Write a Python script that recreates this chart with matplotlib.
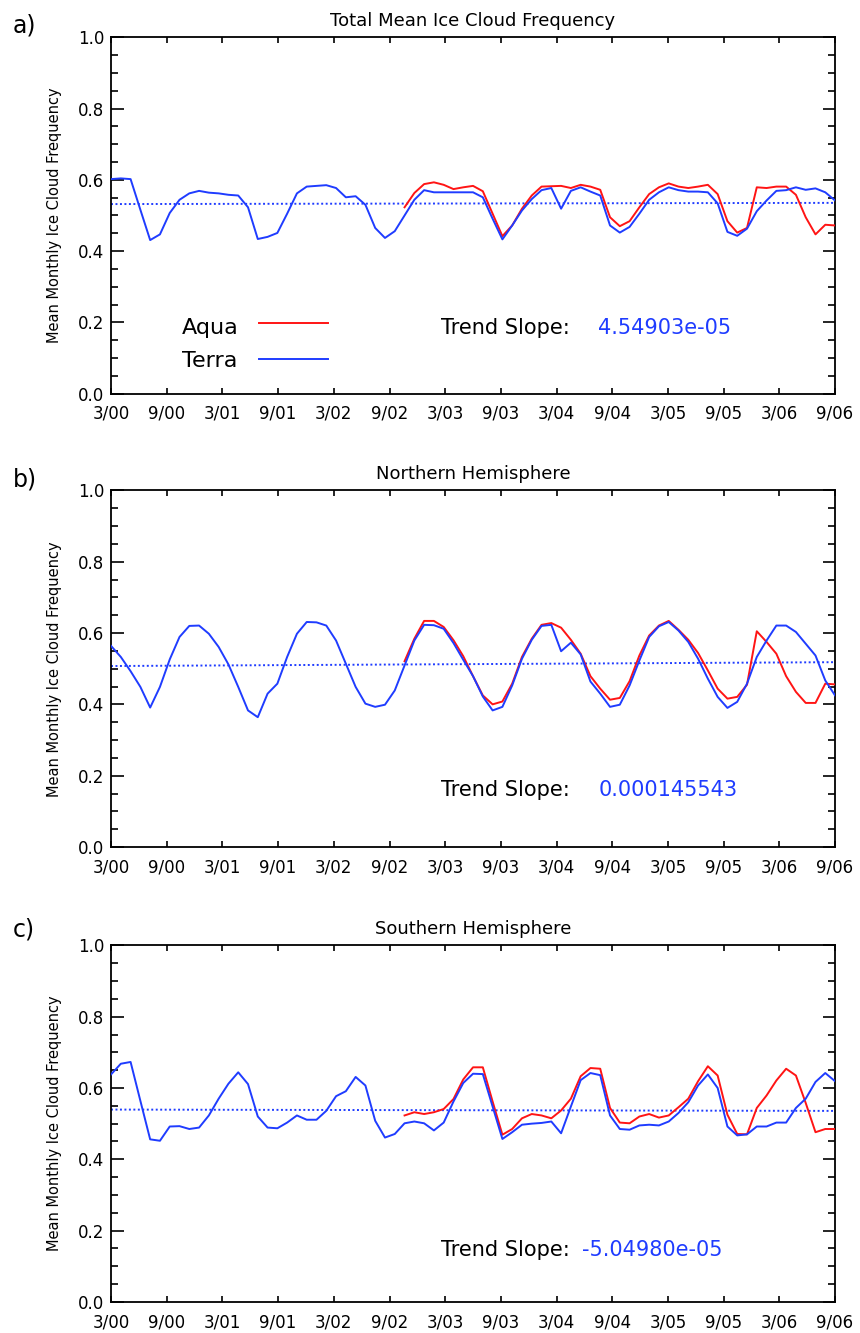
import numpy as np
import matplotlib
matplotlib.use("Agg")
import matplotlib.pyplot as plt
from matplotlib.ticker import MultipleLocator, FixedLocator, FixedFormatter, FormatStrFormatter

# ---------------- data ----------------
tick_labels = ["3/00", "9/00", "3/01", "9/01", "3/02", "9/02", "3/03",
               "9/03", "3/04", "9/04", "3/05", "9/05", "3/06", "9/06"]
n_points = 75          # monthly samples spread over the axis
aqua_first = 30        # index of first Aqua sample

titles = ["Total Mean Ice Cloud Frequency", "Northern Hemisphere", "Southern Hemisphere"]
panel_letters = ["a)", "b)", "c)"]

terra_total = [0.602, 0.604, 0.602, 0.516, 0.431, 0.447, 0.507, 0.544, 0.562, 0.569,
               0.564, 0.562, 0.558, 0.556, 0.523, 0.434, 0.440, 0.451, 0.505, 0.562,
               0.581, 0.583, 0.585, 0.577, 0.551, 0.554, 0.530, 0.465, 0.437, 0.456,
               0.500, 0.544, 0.571, 0.565, 0.565, 0.565, 0.565, 0.565, 0.551, 0.491,
               0.433, 0.472, 0.514, 0.546, 0.571, 0.577, 0.519, 0.569, 0.579, 0.567,
               0.556, 0.472, 0.452, 0.468, 0.505, 0.544, 0.565, 0.579, 0.571, 0.567,
               0.567, 0.565, 0.534, 0.454, 0.443, 0.463, 0.512, 0.542, 0.569, 0.571,
               0.579, 0.572, 0.576, 0.565, 0.542]
aqua_total = [0.523, 0.563, 0.588, 0.593, 0.586, 0.574, 0.579, 0.583, 0.568, 0.505,
              0.442, 0.472, 0.519, 0.556, 0.581, 0.582, 0.583, 0.577, 0.586, 0.581,
              0.572, 0.495, 0.470, 0.484, 0.523, 0.560, 0.579, 0.590, 0.581, 0.577,
              0.581, 0.586, 0.560, 0.484, 0.452, 0.465, 0.579, 0.577, 0.581, 0.581,
              0.558, 0.495, 0.447, 0.474, 0.472]

terra_north = [0.564, 0.533, 0.493, 0.449, 0.391, 0.449, 0.526, 0.589, 0.620, 0.621,
               0.598, 0.561, 0.512, 0.449, 0.383, 0.364, 0.430, 0.458, 0.533, 0.598,
               0.631, 0.630, 0.621, 0.579, 0.514, 0.449, 0.402, 0.393, 0.399, 0.439,
               0.509, 0.579, 0.623, 0.622, 0.612, 0.572, 0.525, 0.479, 0.422, 0.383,
               0.393, 0.453, 0.528, 0.581, 0.620, 0.623, 0.549, 0.573, 0.540, 0.464,
               0.430, 0.393, 0.399, 0.453, 0.523, 0.589, 0.619, 0.631, 0.607, 0.575,
               0.528, 0.472, 0.421, 0.390, 0.407, 0.458, 0.533, 0.579, 0.621, 0.621,
               0.603, 0.570, 0.537, 0.467, 0.425]
aqua_north = [0.521, 0.584, 0.634, 0.634, 0.617, 0.580, 0.535, 0.479, 0.425, 0.400,
              0.408, 0.458, 0.533, 0.584, 0.623, 0.628, 0.615, 0.581, 0.542, 0.479,
              0.444, 0.413, 0.418, 0.465, 0.537, 0.593, 0.621, 0.634, 0.609, 0.581,
              0.544, 0.495, 0.444, 0.416, 0.421, 0.455, 0.605, 0.575, 0.542, 0.479,
              0.435, 0.404, 0.404, 0.458, 0.456]

terra_south = [0.638, 0.668, 0.673, 0.564, 0.456, 0.452, 0.492, 0.493, 0.485, 0.489,
               0.523, 0.570, 0.612, 0.644, 0.611, 0.520, 0.489, 0.487, 0.503, 0.523,
               0.511, 0.511, 0.536, 0.577, 0.591, 0.631, 0.607, 0.508, 0.461, 0.471,
               0.501, 0.506, 0.501, 0.481, 0.503, 0.562, 0.614, 0.640, 0.639, 0.548,
               0.457, 0.476, 0.497, 0.500, 0.502, 0.506, 0.473, 0.548, 0.622, 0.642,
               0.636, 0.523, 0.485, 0.483, 0.495, 0.497, 0.495, 0.506, 0.530, 0.560,
               0.607, 0.638, 0.600, 0.492, 0.467, 0.470, 0.492, 0.492, 0.503, 0.503,
               0.544, 0.570, 0.617, 0.642, 0.619]
aqua_south = [0.523, 0.532, 0.527, 0.532, 0.541, 0.569, 0.624, 0.658, 0.658, 0.562,
              0.469, 0.485, 0.515, 0.527, 0.523, 0.515, 0.537, 0.570, 0.633, 0.656,
              0.654, 0.544, 0.503, 0.501, 0.520, 0.527, 0.517, 0.523, 0.546, 0.570,
              0.619, 0.661, 0.635, 0.525, 0.471, 0.470, 0.544, 0.579, 0.621, 0.654,
              0.635, 0.558, 0.476, 0.485, 0.485]

trend_start = [0.532, 0.5075, 0.5395]
trend_slope = [4.54903e-05, 0.000145543, -5.04980e-05]
slope_text = ["4.54903e-05", "0.000145543", "-5.04980e-05"]

# ---------------- style ----------------
RED = "#ff1414"
BLUE = "#1f3cff"
plt.rcParams['font.family'] = ['DejaVu Sans']

fig = plt.figure(figsize=(8.6, 13.33), dpi=100)

left, width, height = 0.1291, 0.8419, 0.2675
bottoms = [0.7046, 0.3646, 0.0233]
letter_y = [1 - 26 / 1333, 1 - 480 / 1333, 1 - 929 / 1333]
text_y = [0.185, 0.16, 0.145]
value_x = [0.673, 0.673, 0.650]

terra_sets = [terra_total, terra_north, terra_south]
aqua_sets = [aqua_total, aqua_north, aqua_south]

x = np.arange(n_points)
x_aqua = x[aqua_first:]

for k in range(3):
    ax = fig.add_axes([left, bottoms[k], width, height])
    ax.plot(x_aqua, aqua_sets[k], color=RED, lw=1.4, zorder=3)
    ax.plot(x, terra_sets[k], color=BLUE, lw=1.4, zorder=4)
    trend = trend_start[k] + trend_slope[k] * x
    ax.plot(x, trend, color=BLUE, lw=1.4, linestyle=(0, (1, 1.3)), zorder=2)

    ax.set_xlim(0, n_points - 1)
    ax.set_ylim(0, 1)
    ax.xaxis.set_major_locator(FixedLocator(np.linspace(0, n_points - 1, len(tick_labels))))
    ax.xaxis.set_major_formatter(FixedFormatter(tick_labels))
    ax.yaxis.set_major_locator(MultipleLocator(0.2))
    ax.yaxis.set_minor_locator(MultipleLocator(0.05))
    ax.yaxis.set_major_formatter(FormatStrFormatter('%.1f'))
    ax.tick_params(axis='both', which='both', direction='in', top=True, right=True,
                   width=1.2, color='black')
    ax.tick_params(axis='y', which='major', length=9, pad=5, labelsize=12)
    ax.tick_params(axis='y', which='minor', length=5)
    ax.tick_params(axis='x', which='major', length=4, pad=8, labelsize=12)
    for s in ax.spines.values():
        s.set_linewidth(1.3)

    ax.set_title(titles[k], fontsize=13, pad=8)
    ax.set_ylabel("Mean Monthly Ice Cloud Frequency", fontsize=10.5)
    ax.yaxis.set_label_coords(-0.068, 0.5)

    ax.text(0.456, text_y[k], "Trend Slope:", transform=ax.transAxes,
            fontsize=15, va='center', ha='left')
    ax.text(value_x[k], text_y[k], slope_text[k], transform=ax.transAxes,
            fontsize=15, va='center', ha='left', color=BLUE)

    if k == 0:
        ax.text(0.098, 0.185, "Aqua", transform=ax.transAxes, fontsize=16,
                va='center', ha='left')
        ax.text(0.098, 0.092, "Terra", transform=ax.transAxes, fontsize=16,
                va='center', ha='left')
        ax.plot([0.204, 0.300], [0.199, 0.199], transform=ax.transAxes, color=RED, lw=1.4)
        ax.plot([0.204, 0.300], [0.0975, 0.0975], transform=ax.transAxes, color=BLUE, lw=1.4)

    fig.text(13 / 860, letter_y[k], panel_letters[k], fontsize=17, va='center', ha='left')

fig.savefig("out.png", dpi=100)
